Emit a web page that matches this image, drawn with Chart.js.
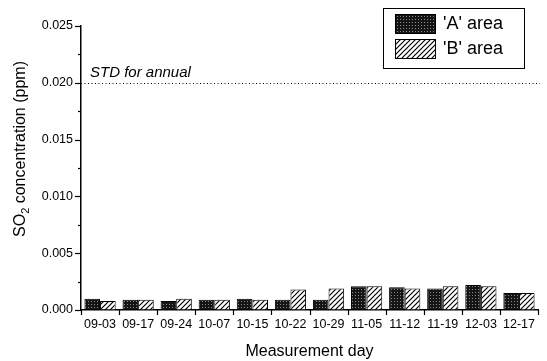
<!DOCTYPE html>
<html>
<head>
<meta charset="utf-8">
<script src="https://cdn.jsdelivr.net/npm/chart.js@4.4.1/dist/chart.umd.min.js"></script>
<style>
  html, body { margin: 0; padding: 0; background: #fff; }
  #wrap { width: 547px; height: 361px; position: relative; }
</style>
</head>
<body>
<div id="wrap"><canvas id="c" width="547" height="361"></canvas></div>
<script>
// Sampling days (month-day)
const days = ['09-03','09-17','09-24','10-07','10-15','10-22','10-29','11-05','11-12','11-19','12-03','12-17'];
// SO2 concentration (ppm) per area
const areaA = [0.0010, 0.0009, 0.0008, 0.0009, 0.0010, 0.0009, 0.0009, 0.0021, 0.0020, 0.0019, 0.0022, 0.0015];
const areaB = [0.0008, 0.0009, 0.0010, 0.0009, 0.0009, 0.0018, 0.0019, 0.0021, 0.0019, 0.0021, 0.0021, 0.0015];
const seriesLabels = ["'A' area", "'B' area"];
// Annual standard
const stdAnnual = 0.020;
const stdLabel = 'STD for annual';
const yTicks = [0, 0.005, 0.010, 0.015, 0.020, 0.025];

const FONT = 'Arial, "Liberation Sans", sans-serif';

function dotPattern() {
  const c = document.createElement('canvas');
  c.width = 3; c.height = 3;
  const g = c.getContext('2d');
  g.fillStyle = '#151515'; g.fillRect(0, 0, 3, 3);
  g.fillStyle = '#8a8a8a'; g.fillRect(1, 1, 1, 1);
  return g.createPattern(c, 'repeat');
}
function hatchPattern() {
  const s = 5;
  const c = document.createElement('canvas');
  c.width = s; c.height = s;
  const g = c.getContext('2d');
  g.fillStyle = '#fff'; g.fillRect(0, 0, s, s);
  g.strokeStyle = '#000'; g.lineWidth = 1.2;
  g.beginPath();
  g.moveTo(-1, s + 1); g.lineTo(s + 1, -1);
  g.moveTo(-1, 1); g.lineTo(1, -1);
  g.moveTo(s - 1, s + 1); g.lineTo(s + 1, s - 1);
  g.stroke();
  return g.createPattern(c, 'repeat');
}

const fillA = dotPattern();
const fillB = hatchPattern();

// Axis tick marks: major/minor on y, category boundaries on x
const tickMarks = {
  id: 'tickMarks',
  afterDraw(chart) {
    const ctx = chart.ctx, y = chart.scales.y, x = chart.scales.x;
    ctx.save();
    ctx.strokeStyle = '#000'; ctx.lineWidth = 1.2;
    for (let v = 0; v <= 0.025 + 1e-9; v += 0.0025) {
      const py = Math.round(y.getPixelForValue(v)) + 0.5;
      const major = Math.abs(v / 0.005 - Math.round(v / 0.005)) < 1e-6;
      ctx.beginPath();
      ctx.moveTo(x.left, py); ctx.lineTo(x.left - (major ? 6 : 3), py);
      ctx.stroke();
    }
    const n = days.length;
    for (let i = 0; i <= n; i++) {
      const px = Math.round(x.left + (x.right - x.left) * i / n) + 0.5;
      ctx.beginPath();
      ctx.moveTo(px, y.bottom); ctx.lineTo(px, y.bottom + 5);
      ctx.stroke();
    }
    ctx.restore();
  }
};

// Standard line with its note
const stdLine = {
  id: 'stdLine',
  afterDatasetsDraw(chart) {
    const ctx = chart.ctx, a = chart.chartArea;
    const py = Math.round(chart.scales.y.getPixelForValue(stdAnnual)) + 0.5;
    ctx.save();
    ctx.strokeStyle = '#000'; ctx.lineWidth = 1;
    ctx.setLineDash([1, 2.5]);
    ctx.beginPath(); ctx.moveTo(a.left, py); ctx.lineTo(a.right + 2, py); ctx.stroke();
    ctx.setLineDash([]);
    ctx.fillStyle = '#000';
    ctx.font = 'italic 15px ' + FONT;
    ctx.textBaseline = 'alphabetic';
    ctx.fillText(stdLabel, a.left + 9, py - 7);
    ctx.restore();
  }
};

// Boxed legend in the upper right, plus y title with subscript
const decor = {
  id: 'decor',
  afterDraw(chart) {
    const ctx = chart.ctx;
    ctx.save();
    // legend
    ctx.strokeStyle = '#000'; ctx.lineWidth = 1;
    ctx.strokeRect(383.5, 8.5, 141, 60);
    chart.data.datasets.forEach((ds, i) => {
      const top = 14 + i * 25;
      ctx.fillStyle = ds.backgroundColor;
      ctx.fillRect(395, top, 40, 19);
      ctx.strokeRect(395.5, top + 0.5, 40, 19);
      ctx.fillStyle = '#000';
      ctx.font = '18px ' + FONT;
      ctx.textBaseline = 'middle';
      ctx.fillText(ds.label, 443, top + 10);
    });
    // y axis title
    ctx.translate(25, 149);
    ctx.rotate(-Math.PI / 2);
    ctx.fillStyle = '#000';
    ctx.textBaseline = 'alphabetic';
    const big = '16px ' + FONT, small = '11px ' + FONT;
    ctx.font = big; const w1 = ctx.measureText('SO').width;
    ctx.font = small; const w2 = ctx.measureText('2').width;
    ctx.font = big; const w3 = ctx.measureText(' concentration (ppm)').width;
    const x0 = -(w1 + w2 + w3) / 2;
    ctx.fillText('SO', x0, 0);
    ctx.font = small; ctx.fillText('2', x0 + w1, 4);
    ctx.font = big; ctx.fillText(' concentration (ppm)', x0 + w1 + w2, 0);
    ctx.restore();
  }
};

new Chart(document.getElementById('c'), {
  type: 'bar',
  data: {
    labels: days,
    datasets: [
      { label: seriesLabels[0], data: areaA, backgroundColor: fillA, borderColor: '#000', borderWidth: 1 },
      { label: seriesLabels[1], data: areaB, backgroundColor: fillB, borderColor: '#000', borderWidth: 1 }
    ]
  },
  options: {
    responsive: false,
    animation: false,
    devicePixelRatio: 1,
    layout: { padding: { left: 0, right: 9, top: 26, bottom: 0 } },
    datasets: { bar: { categoryPercentage: 0.82, barPercentage: 1.0 } },
    plugins: { legend: { display: false }, tooltip: { enabled: false } },
    scales: {
      x: {
        offset: true,
        grid: { display: true, drawOnChartArea: false, drawTicks: true, tickLength: 5, color: 'transparent', offset: true },
        border: { display: true, color: '#000', width: 1.5 },
        ticks: { color: '#000', font: { family: FONT, size: 12.5 }, padding: 2, maxRotation: 0, autoSkip: false },
        title: { display: true, text: 'Measurement day', color: '#000', font: { family: FONT, size: 16 }, padding: { top: 8, bottom: 0 } },
        afterFit(s) { s.height = 51; }
      },
      y: {
        min: 0, max: 0.025,
        afterBuildTicks(s) { s.ticks = yTicks.map(v => ({ value: v })); },
        grid: { display: true, drawOnChartArea: false, drawTicks: true, tickLength: 6, color: 'transparent' },
        border: { display: true, color: '#000', width: 1.5 },
        ticks: { color: '#000', font: { family: FONT, size: 12.5 }, padding: 2, callback: v => v.toFixed(3) },
        afterFit(s) { s.width = 81; }
      }
    }
  },
  plugins: [tickMarks, stdLine, decor]
});
</script>
</body>
</html>
